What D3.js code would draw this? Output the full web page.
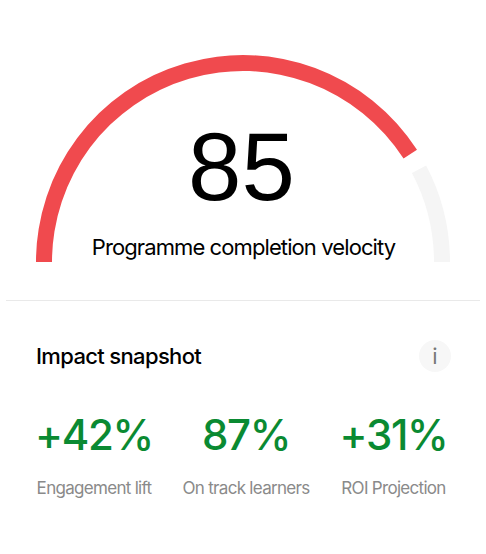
<!DOCTYPE html>
<html><head><meta charset="utf-8"><script src="https://cdn.jsdelivr.net/npm/d3@7"></script>
<style>html,body{margin:0;background:#fff}svg{display:block}text{font-family:Inter,sans-serif}</style></head>
<body><div id="c"></div><script>
const gaugeValue=[85];
const gaugeMax=[100];
const gaugeLabel=["Programme completion velocity"];
const heading=["Impact snapshot"];
const metricValues=["+42%","87%","+31%"];
const metricLabels=["Engagement lift","On track learners","ROI Projection"];
const W=486,H=554;
const svg=d3.select("#c").append("svg").attr("width",W).attr("height",H);
const deg=Math.PI/180;
const a=d3.scaleLinear().domain([0,gaugeValue[0],gaugeMax[0]]).range([-90*deg,57.2*deg,90*deg]);
const arc=d3.arc().innerRadius(191).outerRadius(207);
const g=svg.append("g").attr("transform","translate(243,262)");
g.append("path").attr("d",arc({startAngle:a(gaugeValue[0])+5*deg,endAngle:a(gaugeMax[0])})).attr("fill","#f5f5f5");
g.append("path").attr("d",arc({startAngle:a(0),endAngle:a(gaugeValue[0])})).attr("fill","#f04a4e");
svg.append("text").attr("x",241.5).attr("y",200).attr("text-anchor","middle").attr("font-size",96).style("font-family","'Liberation Sans',sans-serif").text(gaugeValue[0]);
svg.append("text").attr("x",243.5).attr("y",255).attr("text-anchor","middle").attr("font-size",22).attr("letter-spacing",-0.9).text(gaugeLabel[0]);
svg.append("line").attr("x1",6).attr("x2",480).attr("y1",300.5).attr("y2",300.5).attr("stroke","#e9e9e9");
svg.append("text").attr("x",36).attr("y",364).attr("font-size",22).attr("font-weight",500).attr("letter-spacing",-0.65).text(heading[0]);
svg.append("circle").attr("cx",435).attr("cy",356).attr("r",16).attr("fill","#f7f7f7");
svg.append("text").attr("x",435).attr("y",364).attr("text-anchor","middle").attr("font-size",22).attr("fill","#777").text("i");
const xs=d3.scaleOrdinal().domain(metricLabels).range([94,246,393.5]);
metricValues.forEach((v,i)=>{const x=xs(metricLabels[i]);
 svg.append("text").attr("x",x).attr("y",450).attr("text-anchor","middle").attr("font-size",42).attr("font-weight",500).attr("letter-spacing",-1.3).attr("fill","#0a8a32").text(v);
 svg.append("text").attr("x",x).attr("y",494).attr("text-anchor","middle").attr("font-size",17).attr("letter-spacing",-0.7).attr("fill","#8a8a8a").text(metricLabels[i]);});
</script></body></html>
